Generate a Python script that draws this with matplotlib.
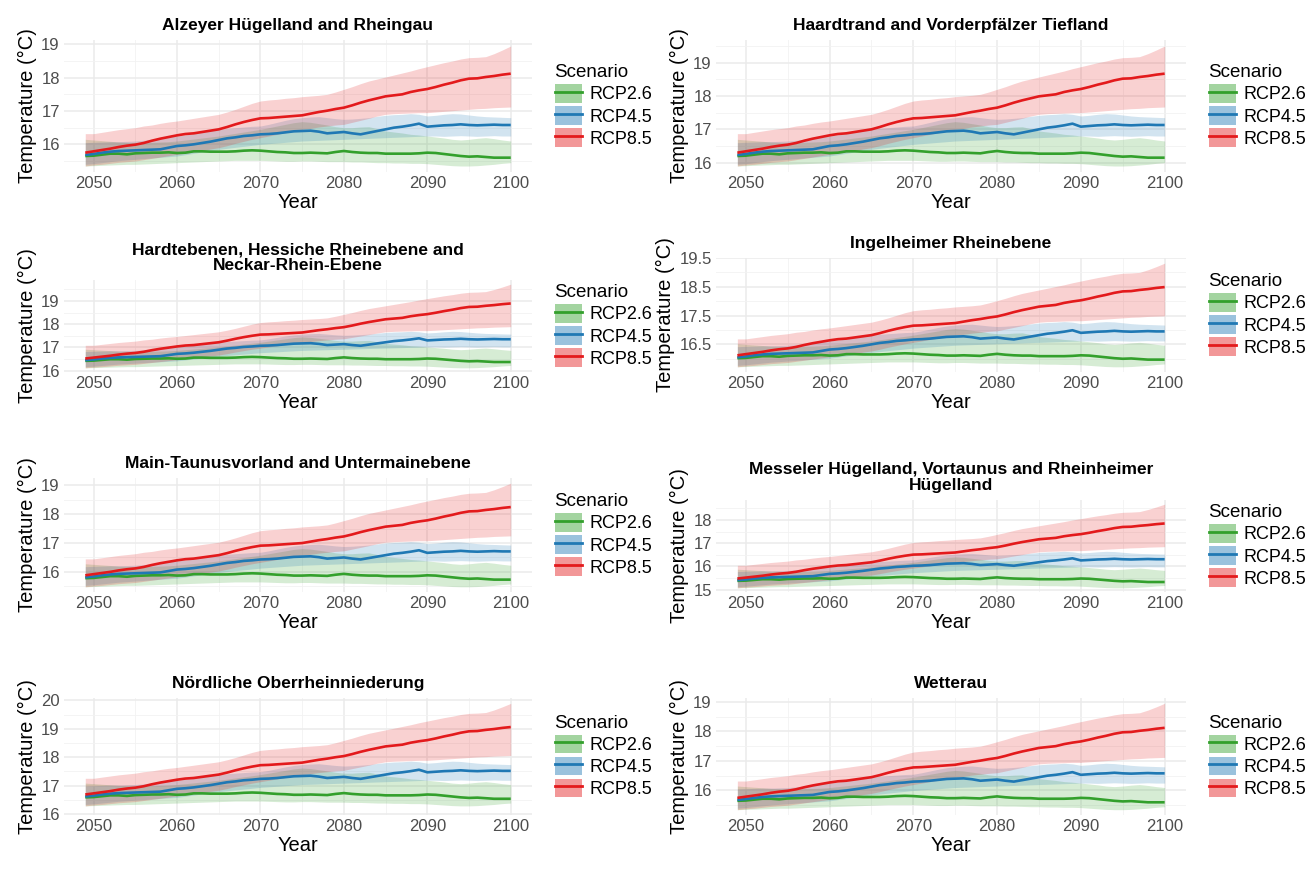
import numpy as np
import matplotlib
matplotlib.use("Agg")
from matplotlib import pyplot as plt
from matplotlib.patches import Patch
from matplotlib.lines import Line2D

plt.rcParams['font.family'] = ['Liberation Sans', 'DejaVu Sans']

years = list(range(2049, 2101))

# Alzeyer Huegelland and Rheingau
rcp85_mean = [15.75, 15.79, 15.83, 15.87, 15.92, 15.96, 15.99, 16.04, 16.11, 16.17,
              16.22, 16.27, 16.31, 16.33, 16.37, 16.41, 16.45, 16.52, 16.60, 16.67,
              16.73, 16.78, 16.79, 16.81, 16.83, 16.85, 16.87, 16.92, 16.97, 17.01,
              17.06, 17.10, 17.17, 17.25, 17.32, 17.38, 17.44, 17.47, 17.50, 17.57,
              17.62, 17.66, 17.72, 17.79, 17.85, 17.92, 17.97, 17.98, 18.02, 18.05,
              18.09, 18.12]
rcp85_high = [16.32, 16.32, 16.36, 16.40, 16.44, 16.47, 16.50, 16.55, 16.58, 16.63,
              16.67, 16.70, 16.74, 16.78, 16.82, 16.86, 16.90, 16.97, 17.05, 17.14,
              17.23, 17.30, 17.33, 17.35, 17.38, 17.40, 17.43, 17.45, 17.47, 17.50,
              17.57, 17.65, 17.73, 17.82, 17.90, 17.96, 18.02, 18.08, 18.14, 18.20,
              18.27, 18.33, 18.39, 18.45, 18.50, 18.56, 18.60, 18.61, 18.63, 18.72,
              18.83, 18.95]
rcp85_low = [15.35, 15.38, 15.40, 15.43, 15.46, 15.48, 15.50, 15.54, 15.58, 15.62,
             15.66, 15.70, 15.73, 15.77, 15.81, 15.86, 15.90, 15.96, 16.03, 16.09,
             16.15, 16.20, 16.25, 16.30, 16.35, 16.40, 16.45, 16.48, 16.52, 16.55,
             16.58, 16.60, 16.66, 16.72, 16.78, 16.85, 16.90, 16.92, 16.93, 16.94,
             16.95, 16.95, 16.97, 16.99, 17.01, 17.03, 17.05, 17.07, 17.08, 17.10,
             17.11, 17.12]

rcp45_mean = [15.68, 15.71, 15.75, 15.78, 15.80, 15.81, 15.82, 15.83, 15.84, 15.85,
              15.90, 15.95, 15.97, 16.00, 16.04, 16.08, 16.13, 16.18, 16.21, 16.25,
              16.27, 16.30, 16.31, 16.33, 16.36, 16.39, 16.40, 16.41, 16.38, 16.33,
              16.35, 16.37, 16.33, 16.30, 16.35, 16.40, 16.45, 16.50, 16.53, 16.57,
              16.62, 16.53, 16.55, 16.57, 16.58, 16.60, 16.58, 16.57, 16.58, 16.59,
              16.58, 16.58]
rcp45_high = [16.05, 16.06, 16.07, 16.08, 16.08, 16.09, 16.10, 16.12, 16.15, 16.18,
              16.22, 16.25, 16.28, 16.32, 16.37, 16.41, 16.45, 16.48, 16.50, 16.52,
              16.54, 16.55, 16.60, 16.66, 16.72, 16.77, 16.80, 16.82, 16.83, 16.80,
              16.77, 16.75, 16.76, 16.78, 16.80, 16.84, 16.87, 16.89, 16.90, 16.92,
              16.90, 16.85, 16.87, 16.90, 16.92, 16.91, 16.88, 16.85, 16.83, 16.82,
              16.81, 16.80]
rcp45_low = [15.40, 15.42, 15.45, 15.48, 15.51, 15.53, 15.55, 15.57, 15.59, 15.61,
             15.63, 15.65, 15.69, 15.73, 15.77, 15.81, 15.85, 15.88, 15.91, 15.94,
             15.97, 16.00, 16.02, 16.04, 16.06, 16.08, 16.10, 16.11, 16.12, 16.13,
             16.14, 16.15, 16.16, 16.17, 16.18, 16.19, 16.20, 16.21, 16.22, 16.23,
             16.24, 16.25, 16.25, 16.24, 16.25, 16.26, 16.25, 16.24, 16.25, 16.26,
             16.25, 16.25]

rcp26_mean = [15.65, 15.66, 15.69, 15.72, 15.72, 15.70, 15.73, 15.74, 15.75, 15.75,
              15.76, 15.74, 15.75, 15.79, 15.79, 15.78, 15.78, 15.78, 15.79, 15.81,
              15.82, 15.81, 15.79, 15.77, 15.76, 15.74, 15.74, 15.75, 15.74, 15.73,
              15.77, 15.80, 15.77, 15.75, 15.74, 15.74, 15.72, 15.72, 15.72, 15.72,
              15.73, 15.75, 15.74, 15.71, 15.68, 15.65, 15.63, 15.64, 15.62, 15.60,
              15.60, 15.60]
rcp26_high = [16.15, 16.13, 16.11, 16.09, 16.07, 16.06, 16.05, 16.05, 16.06, 16.07,
              16.08, 16.10, 16.13, 16.16, 16.19, 16.22, 16.25, 16.29, 16.33, 16.37,
              16.41, 16.45, 16.50, 16.55, 16.60, 16.65, 16.68, 16.66, 16.62, 16.58,
              16.53, 16.50, 16.50, 16.52, 16.53, 16.47, 16.40, 16.37, 16.34, 16.30,
              16.28, 16.25, 16.22, 16.19, 16.15, 16.13, 16.15, 16.18, 16.20, 16.17,
              16.13, 16.10]
rcp26_low = [15.35, 15.36, 15.37, 15.38, 15.39, 15.40, 15.40, 15.41, 15.42, 15.43,
             15.44, 15.45, 15.46, 15.47, 15.48, 15.49, 15.50, 15.51, 15.52, 15.52,
             15.52, 15.52, 15.51, 15.50, 15.49, 15.49, 15.50, 15.50, 15.49, 15.48,
             15.48, 15.48, 15.47, 15.47, 15.46, 15.45, 15.45, 15.44, 15.44, 15.43,
             15.43, 15.42, 15.40, 15.38, 15.36, 15.35, 15.35, 15.36, 15.38, 15.40,
             15.43, 15.45]

# the other regions show the same curves shifted by a constant (degC)
regions = ['Alzeyer Hügelland and Rheingau',
           'Haardtrand and Vorderpfälzer Tiefland',
           'Hardtebenen, Hessiche Rheinebene and\nNeckar-Rhein-Ebene',
           'Ingelheimer Rheinebene',
           'Main-Taunusvorland and Untermainebene',
           'Messeler Hügelland, Vortaunus and Rheinheimer\nHügelland',
           'Nördliche Oberrheinniederung',
           'Wetterau']
region_shift = [0.0, 0.55, 0.77, 0.37, 0.13, -0.27, 0.94, 0.0]
y_ticks = [[16, 17, 18, 19], [16, 17, 18, 19], [16, 17, 18, 19],
           [16.5, 17.5, 18.5, 19.5], [16, 17, 18, 19], [15, 16, 17, 18],
           [16, 17, 18, 19, 20], [16, 17, 18, 19]]

scenarios = ['RCP2.6', 'RCP4.5', 'RCP8.5']
colors = ['#33a02c', '#1f78b4', '#e31a1c']
series = {
    'RCP2.6': (rcp26_mean, rcp26_low, rcp26_high),
    'RCP4.5': (rcp45_mean, rcp45_low, rcp45_high),
    'RCP8.5': (rcp85_mean, rcp85_low, rcp85_high),
}

W, H = 1309, 876
fig = plt.figure(figsize=(W / 100, H / 100), dpi=100)

# plot area boxes in pixels: left, top, right, bottom
cols = [(64, 532), (716, 1186)]
row_bottoms = [172, 372, 592, 815]
row_tops = [40, 258, 478, 698]

for i, name in enumerate(regions):
    r, c = divmod(i, 2)
    left, right = cols[c]
    top = row_tops[r] + (22 if '\n' in name else 0)
    bottom = row_bottoms[r]
    ax = fig.add_axes([left / W, 1 - bottom / H, (right - left) / W, (bottom - top) / H])

    shift = region_shift[i]
    for s, col in zip(scenarios, colors):
        m, lo, hi = (np.array(v) + shift for v in series[s])
        ax.fill_between(years, lo, hi, color=col, alpha=0.2, linewidth=0)
    for s, col in zip(scenarios, colors):
        m = np.array(series[s][0]) + shift
        ax.plot(years, m, color=col, lw=1.9, solid_capstyle='butt')

    ax.margins(x=0.05, y=0.05)
    if i == 6:
        ax.set_ylim(15.97, 20.08)
    ylo, yhi = ax.get_ylim()
    ax.set_xticks([2050, 2060, 2070, 2080, 2090, 2100])
    ax.set_xticks([2055, 2065, 2075, 2085, 2095], minor=True)
    ax.set_yticks(y_ticks[i])
    minor = [t + d for t in y_ticks[i] for d in (-0.5, 0.5)]
    ax.set_yticks(sorted(set(t for t in minor if ylo < t < yhi and t not in y_ticks[i])), minor=True)
    ax.set_ylim(ylo, yhi)
    ax.set_yticklabels([f'{t:g}' for t in y_ticks[i]])

    ax.grid(which='major', color='#ebebeb', lw=1.1)
    ax.grid(which='minor', color='#f2f2f2', lw=0.6)
    ax.set_axisbelow(True)
    for sp in ax.spines.values():
        sp.set_visible(False)
    ax.tick_params(which='both', length=0, labelsize=12, labelcolor='#4d4d4d', pad=3)

    ax.set_title(name, fontsize=12.5, fontweight='bold', pad=7, linespacing=1.1)
    ax.set_xlabel('Year', fontsize=14.5, labelpad=1)
    ax.set_ylabel('Temperature (°C)', fontsize=14.5, labelpad=3)

    handles = [(Patch(facecolor=col, alpha=0.45, lw=0), Line2D([], [], color=col, lw=2))
               for col in colors]
    leg = ax.legend(handles, scenarios, title='Scenario', loc='center left',
                    bbox_to_anchor=(1.025, 0.5), frameon=False, fontsize=13,
                    title_fontsize=13.5, handlelength=1.5, handleheight=1.2,
                    handletextpad=0.45, labelspacing=0.15, borderpad=0.1,
                    alignment='left')

fig.savefig('out.png', dpi=100, facecolor='white')
